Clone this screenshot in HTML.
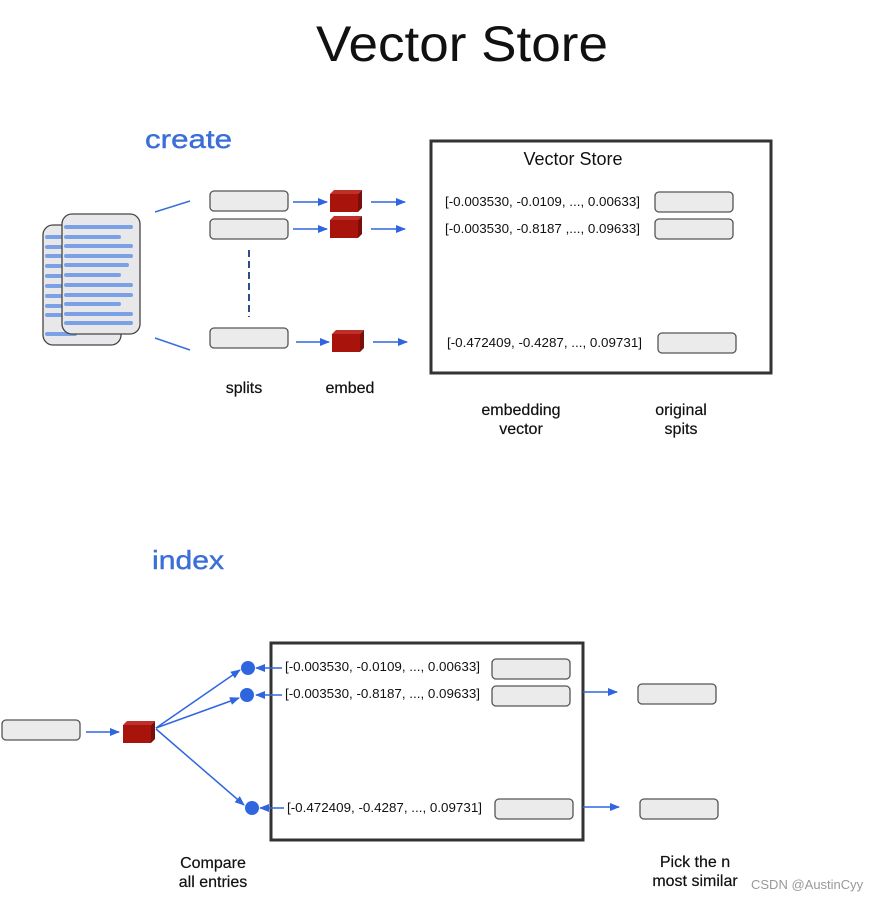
<!DOCTYPE html>
<html><head><meta charset="utf-8"><style>
html,body{margin:0;padding:0;background:#fff;width:889px;height:900px;overflow:hidden}
text{font-family:"Liberation Sans",sans-serif}
</style></head><body>
<svg width="889" height="900" viewBox="0 0 889 900" xmlns="http://www.w3.org/2000/svg">
<defs>
<marker id="a" markerWidth="10" markerHeight="8" refX="9" refY="4" orient="auto" markerUnits="userSpaceOnUse"><path d="M0,0 L10,4 L0,8 z" fill="#2f66e0"/></marker>
<g id="cube"><path d="M0,4 L4,0 L32,0 L28,4 z" fill="#c0302a"/><path d="M28,4 L32,0 L32,18 L28,22 z" fill="#7a0e0a"/><rect x="0" y="4" width="28" height="18" fill="#a8140c"/></g>
<g id="sb"><rect x="0" y="0" width="78" height="20" rx="4" fill="#ebebeb" stroke="#555" stroke-width="1.3"/></g>
</defs>
<text x="316" y="61" font-size="50" fill="#111" textLength="292" lengthAdjust="spacingAndGlyphs">Vector Store</text>
<text x="145" y="148" font-size="26" fill="#3a6fd8" stroke="#3a6fd8" stroke-width="0.4" textLength="87" lengthAdjust="spacingAndGlyphs">create</text>
<text x="152" y="569" font-size="26" fill="#3a6fd8" stroke="#3a6fd8" stroke-width="0.4" textLength="72" lengthAdjust="spacingAndGlyphs">index</text>

<!-- docs -->
<rect x="43" y="225" width="78" height="120" rx="10" fill="#e8e8ea" stroke="#444" stroke-width="1.3"/>
<g stroke="#7aa0e6" stroke-width="4" stroke-linecap="round">
<line x1="47" y1="237" x2="60" y2="237"/><line x1="47" y1="247" x2="60" y2="247"/><line x1="47" y1="256" x2="60" y2="256"/><line x1="47" y1="266" x2="60" y2="266"/><line x1="47" y1="276" x2="60" y2="276"/><line x1="47" y1="286" x2="60" y2="286"/><line x1="47" y1="296" x2="60" y2="296"/><line x1="47" y1="306" x2="60" y2="306"/><line x1="47" y1="315" x2="60" y2="315"/><line x1="47" y1="334" x2="75" y2="334"/>
</g>
<rect x="62" y="214" width="78" height="120" rx="10" fill="#e8e8ea" stroke="#444" stroke-width="1.3"/>
<g stroke="#7aa0e6" stroke-width="4" stroke-linecap="round">
<line x1="66" y1="227" x2="131" y2="227"/><line x1="66" y1="237" x2="119" y2="237"/><line x1="66" y1="246" x2="131" y2="246"/><line x1="66" y1="256" x2="131" y2="256"/><line x1="66" y1="265" x2="127" y2="265"/><line x1="66" y1="275" x2="119" y2="275"/><line x1="66" y1="285" x2="131" y2="285"/><line x1="66" y1="295" x2="131" y2="295"/><line x1="66" y1="304" x2="119" y2="304"/><line x1="66" y1="314" x2="131" y2="314"/><line x1="66" y1="323" x2="131" y2="323"/>
</g>
<line x1="155" y1="212" x2="190" y2="201" stroke="#3a6fd8" stroke-width="1.5"/>
<line x1="155" y1="338" x2="190" y2="350" stroke="#3a6fd8" stroke-width="1.5"/>

<use href="#sb" x="210" y="191"/><use href="#sb" x="210" y="219"/><use href="#sb" x="210" y="328"/>
<line x1="249" y1="250" x2="249" y2="317" stroke="#2c4f8a" stroke-width="2" stroke-dasharray="7,4"/>
<g stroke="#2f66e0" stroke-width="1.5" marker-end="url(#a)">
<line x1="293" y1="202" x2="327" y2="202"/><line x1="293" y1="229" x2="327" y2="229"/><line x1="296" y1="342" x2="329" y2="342"/>
<line x1="371" y1="202" x2="405" y2="202"/><line x1="371" y1="229" x2="405" y2="229"/><line x1="373" y1="342" x2="407" y2="342"/>
</g>
<use href="#cube" x="330" y="190"/><use href="#cube" x="330" y="216"/><use href="#cube" x="332" y="330"/>

<rect x="431" y="141" width="340" height="232" fill="none" stroke="#333" stroke-width="3"/>
<text x="573" y="165" font-size="18" text-anchor="middle" fill="#111">Vector Store</text>
<g font-size="13" fill="#111">
<text x="445" y="206" textLength="195" lengthAdjust="spacingAndGlyphs">[-0.003530, -0.0109, ..., 0.00633]</text>
<text x="445" y="233" textLength="195" lengthAdjust="spacingAndGlyphs">[-0.003530, -0.8187 ,..., 0.09633]</text>
<text x="447" y="347" textLength="195" lengthAdjust="spacingAndGlyphs">[-0.472409, -0.4287, ..., 0.09731]</text>
</g>
<use href="#sb" x="655" y="192"/><use href="#sb" x="655" y="219"/><use href="#sb" x="658" y="333"/>
<g font-size="16" fill="#111" text-anchor="middle" stroke="#111" stroke-width="0.2">
<text x="244" y="393">splits</text><text x="350" y="393">embed</text>
<text x="521" y="415">embedding</text><text x="521" y="434">vector</text>
<text x="681" y="415">original</text><text x="681" y="434">spits</text>
<text x="213" y="868">Compare</text><text x="213" y="887">all entries</text>
<text x="695" y="867">Pick the n</text><text x="695" y="886">most similar</text>
</g>
<text x="751" y="889" font-size="13" fill="#999">CSDN @AustinCyy</text>

<!-- index -->
<rect x="271" y="643" width="312" height="197" fill="none" stroke="#333" stroke-width="3"/>
<g font-size="13" fill="#111">
<text x="285" y="671" textLength="195" lengthAdjust="spacingAndGlyphs">[-0.003530, -0.0109, ..., 0.00633]</text>
<text x="285" y="698" textLength="195" lengthAdjust="spacingAndGlyphs">[-0.003530, -0.8187, ..., 0.09633]</text>
<text x="287" y="812" textLength="195" lengthAdjust="spacingAndGlyphs">[-0.472409, -0.4287, ..., 0.09731]</text>
</g>
<use href="#sb" x="492" y="659"/><use href="#sb" x="492" y="686"/><use href="#sb" x="495" y="799"/>
<use href="#sb" x="638" y="684"/><use href="#sb" x="640" y="799"/>
<use href="#sb" x="2" y="720"/>
<use href="#cube" x="123" y="721"/>
<g stroke="#2f66e0" stroke-width="1.5" marker-end="url(#a)">
<line x1="583" y1="692" x2="617" y2="692"/><line x1="583" y1="807" x2="619" y2="807"/>
<line x1="86" y1="732" x2="119" y2="732"/>
<line x1="156" y1="728" x2="240" y2="670"/><line x1="156" y1="728" x2="239" y2="698"/><line x1="156" y1="729" x2="244" y2="805"/>
<line x1="282" y1="668" x2="256" y2="668"/><line x1="282" y1="695" x2="256" y2="695"/><line x1="284" y1="808" x2="260" y2="808"/>
</g>
<circle cx="248" cy="668" r="7" fill="#2f66e0"/><circle cx="247" cy="695" r="7" fill="#2f66e0"/><circle cx="252" cy="808" r="7" fill="#2f66e0"/>
</svg>
</body></html>
